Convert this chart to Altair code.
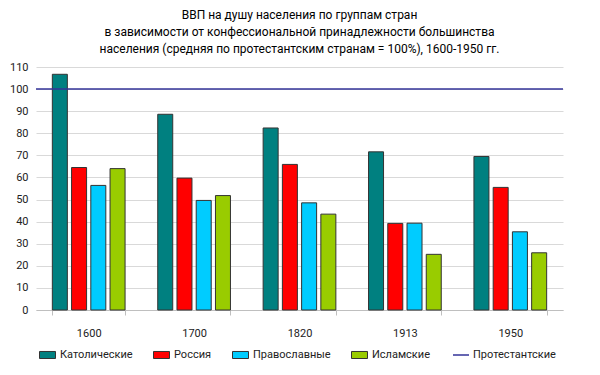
import altair as alt
import pandas as pd

years = ["1600", "1700", "1820", "1913", "1950"]
series = ["Католические", "Россия", "Православные", "Исламские"]
catholic = [106.7, 88.6, 82.4, 71.6, 69.5]
russia = [64.5, 59.7, 65.9, 39.2, 55.5]
orthodox = [56.4, 49.6, 48.5, 39.3, 35.4]
islamic = [64.0, 51.8, 43.4, 25.2, 25.9]
protestant_name = "Протестантские"
protestant_level = 100
y_ticks = list(range(0, 111, 10))
colors = ["#008080", "#ff0000", "#00ccff", "#99cc00"]
line_color = "#333399"

rows = []
for name, vals in zip(series, [catholic, russia, orthodox, islamic]):
    for y, v in zip(years, vals):
        rows.append({"year": y, "series": name, "value": v})
df = pd.DataFrame(rows)
ref = pd.DataFrame({"series": [protestant_name], "value": [protestant_level]})

FONT = "Roboto"

y_scale = alt.Scale(domain=[0, 110], nice=False)
y_axis = alt.Axis(values=y_ticks, ticks=False, domain=False, labelPadding=8,
                  gridColor="#d9d9d9", labelOverlap=False)

bars = alt.Chart(df).mark_bar(stroke="#333333", strokeWidth=1).encode(
    x=alt.X("year:N", sort=years, title=None,
            scale=alt.Scale(paddingInner=0.31, paddingOuter=0.155),
            axis=alt.Axis(labelAngle=0, tickBand="extent", tickSize=5,
                          labelPadding=12, domainColor="#bfbfbf", tickColor="#bfbfbf",
                          grid=False)),
    xOffset=alt.XOffset("series:N", sort=series,
                        scale=alt.Scale(paddingInner=0.22, paddingOuter=0)),
    y=alt.Y("value:Q", title=None, scale=y_scale, axis=y_axis),
    fill=alt.Fill("series:N", sort=series,
                  scale=alt.Scale(domain=series, range=colors),
                  legend=alt.Legend(title=None, orient="none", direction="horizontal",
                                    legendX=3, legendY=279,
                                    symbolType="M-1,-0.44H1V0.44H-1Z", symbolSize=256,
                                    symbolStrokeColor="#333333", symbolStrokeWidth=1,
                                    columnPadding=18, labelOffset=4)),
)

rule = alt.Chart(ref).mark_rule(strokeWidth=1.5).encode(
    y=alt.Y("value:Q", title=None, scale=y_scale, axis=y_axis),
    stroke=alt.Stroke("series:N", scale=alt.Scale(domain=[protestant_name], range=[line_color]),
                      legend=alt.Legend(title=None, orient="none", legendX=416, legendY=279,
                                        symbolType="stroke", symbolSize=256,
                                        symbolStrokeWidth=1.5, labelOffset=3)),
)

chart = (bars + rule).resolve_scale(fill="independent", stroke="independent").properties(
    width=527,
    height=243,
    autosize="none",
    padding={"left": 28, "top": 59, "right": 29, "bottom": 57},
    title=alt.Title(
        ["ВВП на душу населения по группам  стран",
         "в зависимости от конфессиональной принадлежности большинства",
         "населения (средняя по протестантским странам = 100%), 1600-1950 гг."],
        anchor="middle", fontSize=12, fontWeight="normal", font=FONT,
        color="#000000", offset=5, lineHeight=17,
    ),
).configure_axis(
    labelFont=FONT, labelFontSize=11, labelColor="#222222",
).configure_legend(
    labelFont=FONT, labelFontSize=11, labelColor="#222222",
).configure_view(stroke=None)

chart.save("out.html", embed_options={"renderer": "svg", "actions": False})
